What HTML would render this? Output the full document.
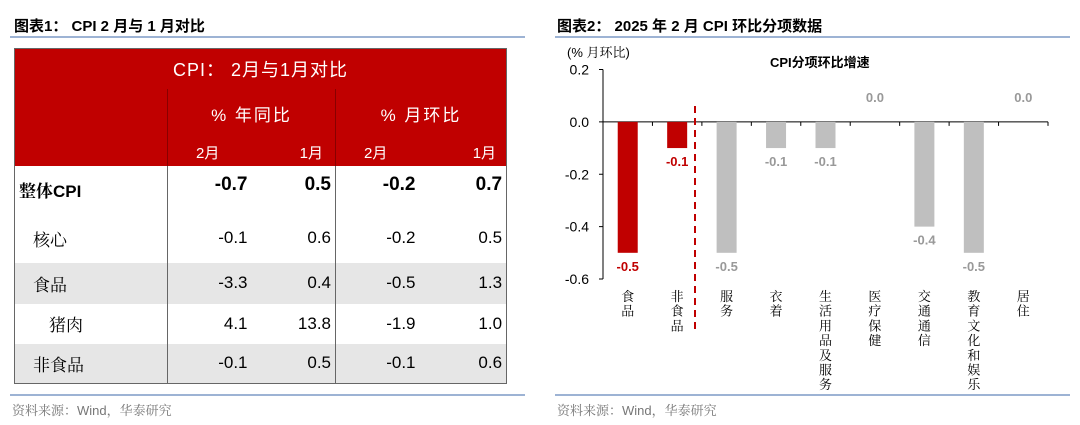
<!DOCTYPE html>
<html><head><meta charset="utf-8">
<style>
body{margin:0;width:1080px;height:425px;background:#fff;overflow:hidden;font-family:"Liberation Sans","Noto Sans CJK SC",sans-serif;position:relative}
.abs{position:absolute}
.ttl{font-weight:bold;font-size:15px;color:#000;top:15px}
.rule{height:2px;background:#9db3d4}
.src{font-size:13px;color:#777;top:400px;font-family:"Liberation Sans","Noto Serif CJK SC",sans-serif}
table{border-collapse:collapse;position:absolute;left:14px;top:48px;width:492px;font-size:17px;table-layout:fixed}
td{padding:0 4px;text-align:right}
.red td{background:#c00000;color:#fff}
.grey td{background:#e6e6e6}
.lbl{text-align:left;font-family:"Liberation Sans","Noto Serif CJK SC",sans-serif}
.bl{border-left:1px solid #666}
.red .bl{border-left:1px solid #800}
</style></head><body>
<div class="abs ttl" style="left:14px">图表1： CPI 2 月与 1 月对比</div>
<div class="abs rule" style="left:10px;top:36px;width:515px"></div>
<table style="border:1px solid #666">
<colgroup><col style="width:153px"><col style="width:84px"><col style="width:84px"><col style="width:84px"><col style="width:87px"></colgroup>
<tr class="red" style="height:40px"><td colspan="5" style="text-align:center;font-size:18px;letter-spacing:1px">CPI： 2月与1月对比</td></tr>
<tr class="red" style="height:50px"><td></td><td colspan="2" class="bl" style="text-align:center;letter-spacing:2px">% 年同比</td><td colspan="2" class="bl" style="text-align:center;letter-spacing:2px">% 月环比</td></tr>
<tr class="red" style="height:27px;font-size:15px"><td></td><td class="bl" style="text-align:left;padding-left:28px">2月</td><td style="padding-right:12px">1月</td><td class="bl" style="text-align:left;padding-left:28px">2月</td><td style="padding-right:10px">1月</td></tr>
<tr style="height:48px;font-weight:bold;font-size:19px"><td class="lbl" style="font-size:17px">整体CPI</td><td class="bl" style="vertical-align:top;padding-top:8px">-0.7</td><td style="vertical-align:top;padding-top:8px">0.5</td><td class="bl" style="vertical-align:top;padding-top:8px">-0.2</td><td style="vertical-align:top;padding-top:8px">0.7</td></tr>
<tr style="height:49px"><td class="lbl" style="padding-left:18px">核心</td><td class="bl">-0.1</td><td>0.6</td><td class="bl">-0.2</td><td>0.5</td></tr>
<tr class="grey" style="height:41px"><td class="lbl" style="padding-left:18px">食品</td><td class="bl">-3.3</td><td>0.4</td><td class="bl">-0.5</td><td>1.3</td></tr>
<tr style="height:40px"><td class="lbl" style="padding-left:34px">猪肉</td><td class="bl">4.1</td><td>13.8</td><td class="bl">-1.9</td><td>1.0</td></tr>
<tr class="grey" style="height:40px"><td class="lbl" style="padding-left:18px">非食品</td><td class="bl">-0.1</td><td>0.5</td><td class="bl">-0.1</td><td>0.6</td></tr>
</table>
<div class="abs rule" style="left:10px;top:394px;width:515px"></div>
<div class="abs src" style="left:12px">资料来源：Wind，华泰研究</div>

<div class="abs ttl" style="left:557px">图表2： 2025 年 2 月 CPI 环比分项数据</div>
<div class="abs rule" style="left:555px;top:36px;width:515px"></div>
<div class="abs rule" style="left:555px;top:394px;width:515px"></div>
<div class="abs src" style="left:557px">资料来源：Wind，华泰研究</div>
<svg class="abs" style="left:0;top:0" width="1080" height="425" id="chart"></svg>
<script>
const categories=["食品","非食品","服务","衣着","生活用品及服务","医疗保健","交通通信","教育文化和娱乐","居住"];
const values=[-0.5,-0.1,-0.5,-0.1,-0.1,0.0,-0.4,-0.5,0.0];
const highlighted=[true,true,false,false,false,false,false,false,false];
const yTicks=[0.2,0.0,-0.2,-0.4,-0.6];
const svg=document.getElementById('chart');
const NS='http://www.w3.org/2000/svg';
const x0=603,x1=1048,yTop=69.5,yBot=279;
const yMin=-0.6,yMax=0.2;
const y=v=>yTop+(yMax-v)/(yMax-yMin)*(yBot-yTop);
const band=(x1-x0)/categories.length;
const xc=i=>x0+band*(i+0.5);
function mk(tag,attrs,txt){const e=document.createElementNS(NS,tag);for(const k in attrs)e.setAttribute(k,attrs[k]);if(txt!==undefined)e.textContent=txt;svg.appendChild(e);return e;}
let e=mk('line',{x1:x0,y1:yTop,x2:x0,y2:yBot,stroke:'#000','stroke-width':1});


yTicks.forEach(t=>{
 mk('line',{x1:x0-4,y1:y(t),x2:x0,y2:y(t),stroke:'#000'});
 const l=mk('text',{x:x0-14,y:y(t)+5,'text-anchor':'end','font-size':14,fill:'#000'},t.toFixed(1));
 
 
});
e=mk('text',{x:567,y:57,'font-size':13,fill:'#000','font-family':'Liberation Sans,Noto Serif CJK SC,sans-serif'},'(% 月环比)');


e=mk('text',{x:770,y:67,'font-size':13,'font-weight':'bold',fill:'#000'},'CPI分项环比增速');


e=mk('line',{x1:x0,y1:y(0),x2:x1,y2:y(0),stroke:'#000'});


for(let i=0;i<=categories.length;i++)mk('line',{x1:x0+band*i,y1:y(0),x2:x0+band*i,y2:y(0)+4,stroke:'#000'});
const bw=20;
values.forEach((v,i)=>{
 const col=highlighted[i]?'#c00000':'#bfbfbf';
 const r=mk('rect',{x:xc(i)-bw/2,y:Math.min(y(v),y(0)),width:bw,height:Math.abs(y(v)-y(0)),fill:col});
 
 
 const ly=v<0?y(v)+18:y(0)-20;
 const t=mk('text',{x:xc(i),y:ly,'text-anchor':'middle','font-size':13,'font-weight':'bold',fill:highlighted[i]?'#c00000':'#999'},v.toFixed(1));
 
 
 [...categories[i]].forEach((ch,j)=>{
  const c=mk('text',{x:xc(i),y:301+j*14.7,'text-anchor':'middle','font-size':13,fill:'#000','font-family':'Noto Serif CJK SC,serif'},ch);
  
  
 });
});
e=mk('line',{x1:695,y1:106,x2:695,y2:330,stroke:'#c00000','stroke-width':2,'stroke-dasharray':'7,5'});


</script>
</body></html>
